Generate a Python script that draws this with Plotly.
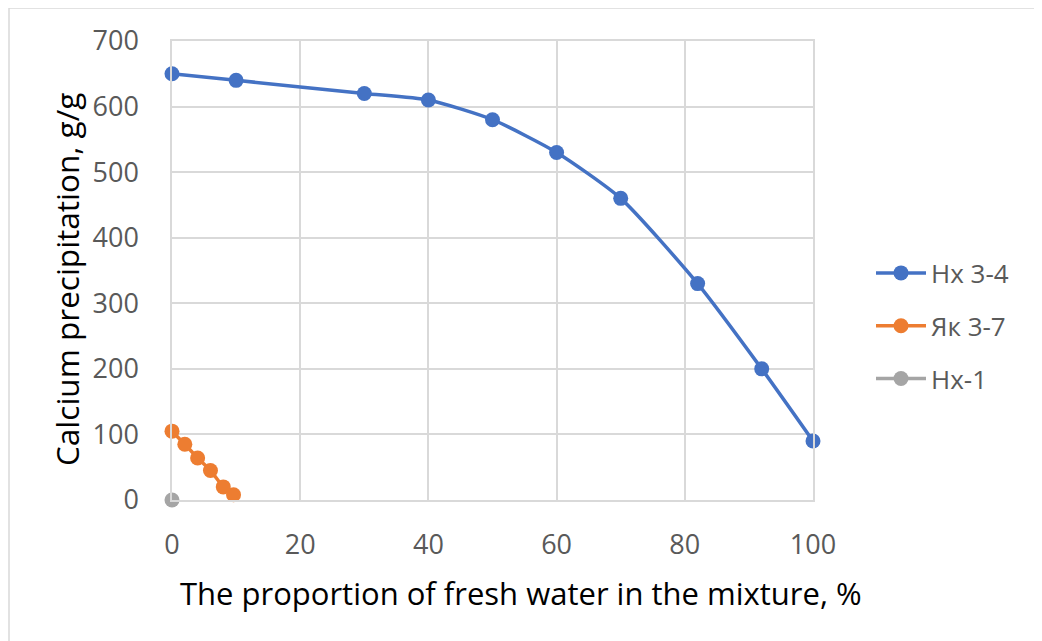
import plotly.graph_objects as go

# Data
hx34_x = [0, 10, 30, 40, 50, 60, 70, 82, 92, 100]
hx34_y = [650, 640, 620, 610, 580, 530, 460, 330, 200, 90]
yak37_x = [0, 2, 4, 6, 8, 9.6]
yak37_y = [105, 85, 64, 45, 20, 8]
hx1_x = [0]
hx1_y = [0]
series_names = ["Нх 3-4", "Як 3-7", "Нх-1"]
colors = ["#4472C4", "#ED7D31", "#A5A5A5"]
x_ticks = [0, 20, 40, 60, 80, 100]
y_ticks = [0, 100, 200, 300, 400, 500, 600, 700]
x_title = "The proportion of fresh water in the mixture, %"
y_title = "Calcium precipitation, g/g"

FONT = "Open Sans"
OFF = 8  # page body margin
W, H = 1042, 641
L, T = 172 - OFF, 41 - OFF
PW, PH = 641, 459
R = W - L - PW
B = H - T - PH


def px_x(img_x):
    return (img_x - OFF - L) / PW


def px_y(img_y):
    return 1 - (img_y - OFF - T) / PH


fig = go.Figure()
for i, (xs, ys) in enumerate([(hx34_x, hx34_y), (yak37_x, yak37_y), (hx1_x, hx1_y)]):
    fig.add_trace(go.Scatter(
        x=xs, y=ys, name=series_names[i], mode="lines+markers",
        line=dict(color=colors[i], width=3.5, shape="spline", smoothing=0.6),
        marker=dict(color=colors[i], size=15),
        legendgroup=f"g{i}", cliponaxis=False,
    ))

fig.add_shape(type="rect", xref="paper", yref="paper",
              x0=px_x(9), x1=px_x(W + 30),
              y0=px_y(H + 30), y1=px_y(8),
              line=dict(color="#D9D9D9", width=1.5), layer="below")

fig.add_annotation(text=x_title, xref="paper", yref="paper",
                   x=px_x(521), y=px_y(593), xanchor="center", yanchor="middle",
                   showarrow=False, font=dict(size=31, color="#000000", family=FONT))
fig.add_annotation(text=y_title, xref="paper", yref="paper", textangle=-90,
                   x=px_x(66), y=px_y(280), xanchor="center", yanchor="middle",
                   showarrow=False, font=dict(size=31.5, color="#000000", family=FONT))

fig.update_layout(
    width=W, height=H,
    margin=dict(l=L, r=R, t=T, b=B, autoexpand=False),
    paper_bgcolor="white", plot_bgcolor="white",
    font=dict(family=FONT, color="#595959"),
    showlegend=True,
    legend=dict(x=px_x(871), xanchor="left", y=px_y(326), yanchor="middle",
                xref="paper", font=dict(size=26, color="#595959", family=FONT),
                tracegroupgap=16, itemwidth=50,
                bgcolor="rgba(0,0,0,0)"),
    xaxis=dict(
        range=[0, 100], tickvals=x_ticks, showgrid=True, gridcolor="#D9D9D9", gridwidth=1.5,
        showline=True, linecolor="#D9D9D9", linewidth=1.5, mirror=True, zeroline=False,
        tickfont=dict(size=27, color="#595959", family=FONT), ticklabelstandoff=20,
        automargin=False,
    ),
    yaxis=dict(
        range=[0, 700], tickvals=y_ticks, showgrid=True, gridcolor="#D9D9D9", gridwidth=1.5,
        showline=True, linecolor="#D9D9D9", linewidth=1.5, mirror=True, zeroline=False,
        tickfont=dict(size=27, color="#595959", family=FONT), ticklabelstandoff=26,
        automargin=False,
    ),
)

fig.write_html("out.html")
